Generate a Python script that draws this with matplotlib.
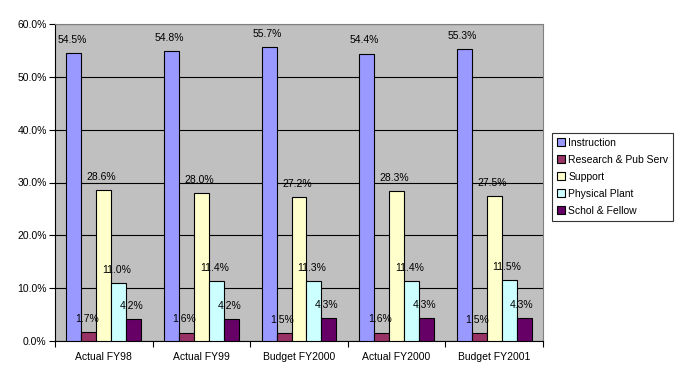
import matplotlib.pyplot as plt
import numpy as np
from matplotlib.ticker import FixedLocator, PercentFormatter

plt.rcParams['font.family'] = ['Liberation Sans', 'DejaVu Sans']

years = ['Actual FY98', 'Actual FY99', 'Budget FY2000', 'Actual FY2000', 'Budget FY2001']
series = ['Instruction', 'Research & Pub Serv', 'Support', 'Physical Plant', 'Schol & Fellow']
instruction = [54.5, 54.8, 55.7, 54.4, 55.3]
research = [1.7, 1.6, 1.5, 1.6, 1.5]
support = [28.6, 28.0, 27.2, 28.3, 27.5]
plant = [11.0, 11.4, 11.3, 11.4, 11.5]
schol = [4.2, 4.2, 4.3, 4.3, 4.3]
colors = ['#9999FF', '#993366', '#FFFFCC', '#CCFFFF', '#660066']

fig = plt.figure(figsize=(6.84, 3.81), dpi=100)
ax = fig.add_axes([55 / 684, 1 - 341 / 381, 488 / 684, 317 / 381])
ax.set_facecolor('#C0C0C0')

x = np.arange(len(years))
w = 0.153
data = [instruction, research, support, plant, schol]
for i, (vals, name, c) in enumerate(zip(data, series, colors)):
    pos = x + (i - 2) * w
    ax.bar(pos, vals, w, color=c, edgecolor='black', linewidth=0.8, label=name, zorder=3)
    for p, v in zip(pos, vals):
        ax.annotate(f'{v:.1f}%', (p, v), xytext=(-1.5, 9.5), textcoords='offset points',
                    ha='center', va='center', fontsize=7.5, zorder=4)

ax.set_xlim(-0.5, 4.5)
ax.set_ylim(0, 60)
ax.set_yticks(np.arange(0, 61, 10))
ax.yaxis.set_major_formatter(PercentFormatter(decimals=1))
ax.grid(axis='y', color='black', linewidth=0.8, zorder=1)
ax.set_xticks(x)
ax.set_xticklabels(years)
ax.tick_params(axis='x', length=0, pad=8, labelsize=7.5)
ax.xaxis.set_minor_locator(FixedLocator(np.arange(-0.5, 5, 1)))
ax.tick_params(axis='x', which='minor', length=4, width=0.8)
ax.tick_params(axis='y', length=4, width=0.8, labelsize=7.5, pad=2)
for s in ['top', 'right']:
    ax.spines[s].set_color('#808080')
    ax.spines[s].set_linewidth(0.8)
for s in ['left', 'bottom']:
    ax.spines[s].set_linewidth(0.8)

leg = fig.legend(loc='upper left', bbox_to_anchor=(552 / 684, 1 - 133 / 381),
                 fontsize=7.5, frameon=True, fancybox=False, handlelength=0.8,
                 handleheight=0.8, handletextpad=0.3, borderpad=0.45, labelspacing=0.68,
                 borderaxespad=0)
leg.get_frame().set_edgecolor('black')
leg.get_frame().set_linewidth(0.8)

fig.savefig('out.png', dpi=100)
